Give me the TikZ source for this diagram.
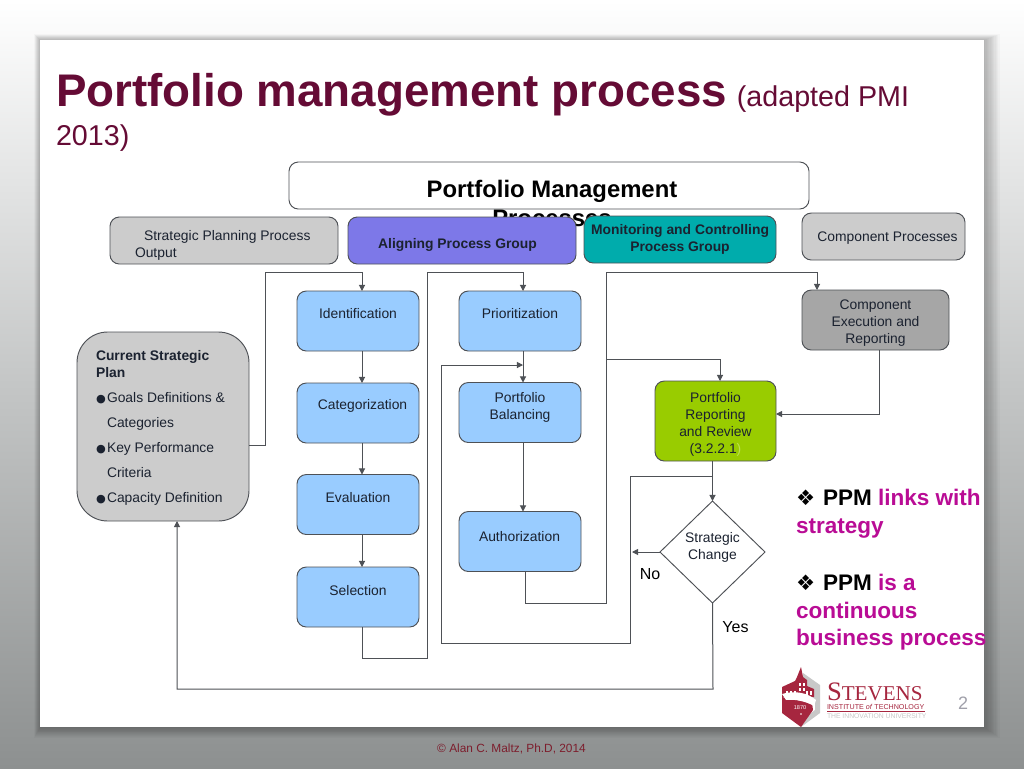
\documentclass[tikz,border=0pt]{standalone}
\usepackage{fontspec}
\setmainfont{Liberation Sans}
\newfontfamily\dejavu{DejaVu Sans}
\newfontfamily\serifl{Liberation Serif}
\usetikzlibrary{arrows.meta,shapes.geometric}
\newdimen\pxu \pxu=0.75pt
\newcommand{\off}[3]{\raisebox{#2\pxu}[0pt][0pt]{\hspace*{#1\pxu}#3}}
\newcommand{\fs}[1]{\fontsize{#1}{12.75}\selectfont}
\definecolor{titlec}{HTML}{650B35}
\definecolor{magc}{HTML}{B90C95}
\definecolor{linec}{HTML}{4E5156}
\definecolor{txtc}{HTML}{1B2230}
\definecolor{crest}{HTML}{A6263F}
\definecolor{bgbot}{HTML}{8D9090}
\definecolor{bgmid}{HTML}{C4C6C6}
\definecolor{procf}{HTML}{99CCFF}
\definecolor{grayf}{HTML}{CCCCCC}
\definecolor{dgrayf}{HTML}{A6A6A6}
\definecolor{alignf}{HTML}{7D78E8}
\definecolor{monf}{HTML}{00ACAC}
\definecolor{repf}{HTML}{99CC00}
\definecolor{pgc}{HTML}{A0A0AA}
\definecolor{footc}{HTML}{7D1E2D}
\definecolor{swoosh}{HTML}{C8C8C8}
\newcommand{\blt}{\makebox[11\pxu][l]{\dejavu\fontsize{8.4}{10}\selectfont ●}}
\newcommand{\spark}{\makebox[27\pxu][l]{\dejavu\fontsize{16}{16}\selectfont ❖}}
\tikzset{
  sz/.style n args={2}{minimum width=#1*0.75pt,minimum height=#2*0.75pt},
  base/.style={draw=linec,line width=0.7pt,rounded corners=7pt,inner sep=0pt,outer sep=0pt,align=center,text=txtc,font=\fs{10.4}},
  procbox/.style={base,fill=procf},
  graybox/.style={base,fill=grayf},
  conn/.style={draw=linec,line width=0.75pt},
  arr/.style={conn,-{Triangle[length=4.6pt,width=4.6pt]}},
  free/.style={inner sep=0pt,outer sep=0pt},
}
\begin{document}
\begin{tikzpicture}[x=0.75pt,y=-0.75pt]
\useasboundingbox (0,0) rectangle (1024,768);
% background
\shade[top color=white,bottom color=bgbot,middle color=bgmid] (0,0) rectangle (1024,768);
\foreach \i in {1,...,12}{
  \fill[black,opacity=0.024] ({40-0.5*\i},{40-0.5*\i}) rectangle ({984+1.3*\i},{727+0.9*\i});
}
\fill[white] (40,40) rectangle (984,727);
% title
\node[free,anchor=north west,align=left,text=titlec] (title) at (56,73)
  {\fontsize{34.3}{27.75}\selectfont\textbf{Portfolio management process}\hspace*{-2pt} \fontsize{21.5}{27.75}\selectfont (adapted PMI\\[6pt]\fontsize{21.5}{27.75}\selectfont 2013)};
% header boxes
\node[base,sz={520}{47},rounded corners=7pt,fill=white] (pm) at (549,185.5)
  {\off{6}{-21}{\parbox[c]{300\pxu}{\centering\bfseries\color{black}\fontsize{17.9}{21.75}\selectfont Portfolio Management\\Processes}}};
\node[graybox,sz={228}{47}] (spp) at (224,240.5)
  {\off{-1}{-8}{\parbox[c]{177\pxu}{\raggedright\hspace*{9\pxu}Strategic Planning Process\\Output}}};
\node[base,sz={228}{47},fill=alignf,font=\fs{10.4}\bfseries] (apg) at (462,240.5) {\off{-9}{-8}{Aligning Process Group}};
\node[base,sz={192}{47},fill=monf,font=\fs{10.4}\bfseries] (mcg) at (680,239.5) {Monitoring and Controlling\\Process Group};
\node[graybox,sz={163}{47}] (cp) at (883.5,236.5) {\off{8}{-5}{Component Processes}};
% process boxes
\node[procbox,sz={122}{60}] (iden) at (358,321) {\off{0}{3}{Identification}};
\node[procbox,sz={122}{60}] (cat) at (358,413) {\off{9}{4}{Categorization}};
\node[procbox,sz={122}{60}] (eval) at (358,504.5) {\off{0}{2}{Evaluation}};
\node[procbox,sz={122}{60}] (sel) at (358,597) {\off{0}{2}{Selection}};
\node[procbox,sz={122}{60}] (prio) at (520,321) {\off{0}{3}{Prioritization}};
\node[procbox,sz={122}{60}] (bal) at (520,412.5) {\off{0}{2}{\parbox[c]{100\pxu}{\centering Portfolio\\Balancing}}};
\node[procbox,sz={122}{60}] (auth) at (520,541.5) {\off{-1}{0}{Authorization}};
\node[base,sz={147}{60},fill=dgrayf] (cer) at (875.5,320) {\off{0}{-6}{\parbox[c]{140\pxu}{\centering Component\\Execution and\\Reporting}}};
\node[base,sz={121}{80},fill=repf] (rep) at (715.5,421) {\off{0}{-6.5}{\parbox[c]{110\pxu}{\centering Portfolio\\Reporting\\and Review\\(3.2.2.1\textcolor[HTML]{BBDD55}{)}}}};
\node[graybox,sz={172}{189},rounded corners=23pt] (plan) at (163,426.5)
  {\off{0}{-5}{\parbox[c]{134\pxu}{\raggedright\fs{10.4}\setlength{\baselineskip}{17\pxu}
   \textbf{Current Strategic\\Plan}\\[6pt]\blt Goals Definitions \&\\[6pt]\hspace*{11\pxu}Categories\\[6pt]\blt Key Performance\\[6pt]\hspace*{11\pxu}Criteria\\[6pt]\blt Capacity Definition}}};
\node[diamond,draw=linec,line width=0.7pt,fill=white,inner sep=0pt,outer sep=0pt,aspect=1.03,minimum width=105*0.75pt,minimum height=102*0.75pt,align=center,text=txtc,font=\fs{10.4}] (dia) at (712.5,552) {\off{0}{1.5}{\parbox[c]{60\pxu}{\centering Strategic\\Change}}};
% labels
\node[free,anchor=base,font=\fs{12},text=black] (no) at (650,579) {No};
\node[free,anchor=base,font=\fs{12},text=black] (yes) at (735.5,632) {Yes};
% named bend points
\coordinate (a1) at (265,445); \coordinate (a2) at (265,272); \coordinate (a3) at (362,272);
\coordinate (b1) at (362,658); \coordinate (b2) at (427,658); \coordinate (b3) at (427,272); \coordinate (b4) at (523,272);
\coordinate (c1) at (713,476); \coordinate (c2) at (630,476); \coordinate (c3) at (630,643); \coordinate (c4) at (441,643); \coordinate (c5) at (441,365); \coordinate (c6) at (523,365);
\coordinate (d1) at (525,603); \coordinate (d2) at (606,603); \coordinate (d3) at (606,272); \coordinate (d4) at (817,272);
\coordinate (e1) at (606,359); \coordinate (e2) at (720,359);
\coordinate (f1) at (879,414);
\coordinate (g1) at (713,689); \coordinate (g2) at (177,689);
\coordinate (h1) at (632,552);
\coordinate (xl) at (362,0); \coordinate (xr) at (523,0); \coordinate (xa) at (525,0);
% connectors
\draw[arr] (plan.east |- a1) -- (a1) -- (a2) -- (a3) -- (iden.north -| a3);
\draw[arr] (iden.south -| xl) -- (cat.north -| xl);
\draw[arr] (cat.south -| xl) -- (eval.north -| xl);
\draw[arr] (eval.south -| xl) -- (sel.north -| xl);
\draw[arr] (sel.south -| xl) -- (b1) -- (b2) -- (b3) -- (b4) -- (prio.north -| b4);
\draw[arr] (prio.south -| xr) -- (bal.north -| xr);
\draw[arr] (bal.south -| xr) -- (auth.north -| xr);
\draw[arr] (c1) -- (c2) -- (c3) -- (c4) -- (c5) -- (c6);
\draw[arr] (auth.south -| xa) -- (d1) -- (d2) -- (d3) -- (d4) -- (cer.north -| d4);
\draw[arr] (e1) -- (e2) -- (rep.north -| e2);
\draw[arr] (cer.south -| f1) -- (f1) -- (rep.east |- f1);
\draw[arr] (rep.south -| dia.north) -- (dia.north);
\draw[arr] (dia.west) -- (h1);
\draw[arr] (dia.south) -- (g1) -- (g2) -- (plan.south -| g2);
% side text
\node[free,anchor=base west,font=\fs{16.9}\bfseries,text=magc,align=left] (ppm1) at (796,505)
  {\textcolor{black}{\spark PPM} links with};
\node[free,anchor=base west,font=\fs{16.9}\bfseries,text=magc] (ppm1b) at (796,533) {strategy};
\node[free,anchor=base west,font=\fs{16.9}\bfseries,text=magc] (ppm2) at (796,590)
  {\textcolor{black}{\spark PPM} is a};
\node[free,anchor=base west,font=\fs{16.9}\bfseries,text=magc] (ppm2b) at (796,618) {continuous};
\node[free,anchor=base west,font=\fs{16.9}\bfseries,text=magc] (ppm2c) at (796,645) {business process};
% page number and footer
\node[free,anchor=base,font=\fs{13.5},text=pgc] (pg) at (963,709) {2};
\node[free,anchor=base,font=\fs{8.9},text=footc] (foot) at (511.5,752) {© Alan C. Maltz, Ph.D, 2014};
% logo crest
\fill[swoosh] (803,673) -- (820,685) -- (820,713) -- (801,727) -- (801,721) -- (815,710) -- (815,700) -- (803,694) -- cycle;
\fill[crest] (801,667) -- (803,677) -- (807,680) -- (807,686) -- (814,689) -- (814,697) -- (782,697) -- (782,687) -- (795,681) -- (797,677) -- cycle;
\fill[crest] (782,697) -- (812,703) -- (813,710) -- (801,727) -- (782,713) -- cycle;
\fill[white] (782,694) .. controls (795,690) and (808,693) .. (816,700) -- (814,706) .. controls (805,701) and (795,699) .. (786,700) -- cycle;
\foreach \wx in {786,790,794,806,810}{\fill[white] (\wx,691) rectangle ({\wx+2},695);}
\foreach \wy in {683,688}{\fill[white] (799,\wy) rectangle (801,{\wy+3}); \fill[white] (803,\wy) rectangle (805,{\wy+3});}
\node[free,font=\fs{4.2},text=white] (yr) at (800,708) {1870};
\fill[white] (801,714) circle (0.8);
% logo text
\node[free,anchor=base west,text=crest] (st) at (827,700) {\serifl\fontsize{20}{22}\selectfont S\fontsize{15.8}{22}\selectfont TEVENS};
\node[free,anchor=base west,text=crest] (inst) at (827,709) {\fontsize{5.35}{6}\selectfont INSTITUTE \textit{of} TECHNOLOGY};
\draw[crest,line width=0.5pt] (827,711) -- (925,711);
\node[free,anchor=base west,text=swoosh] (inno) at (827,718) {\fontsize{5.1}{6}\selectfont THE INNOVATION UNIVERSITY};
\end{tikzpicture}
\end{document}
